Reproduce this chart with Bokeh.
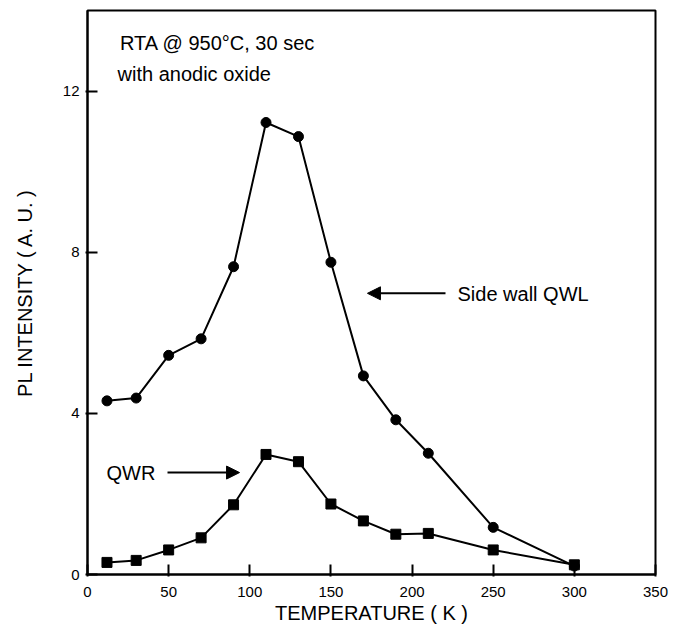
from bokeh.plotting import figure
from bokeh.models import Range1d, FixedTicker, Arrow, NormalHead, Label
from bokeh.embed import file_html
from bokeh.resources import INLINE

# Data
temperature = [12, 30, 50, 70, 90, 110, 130, 150, 170, 190, 210, 250, 300]
sidewall_qwl = [4.31, 4.38, 5.44, 5.85, 7.64, 11.22, 10.87, 7.75, 4.93, 3.84, 3.01, 1.17, 0.21]
qwr = [0.30, 0.35, 0.61, 0.91, 1.73, 2.98, 2.80, 1.75, 1.33, 1.00, 1.02, 0.61, 0.24]
x_ticks = [0, 50, 100, 150, 200, 250, 300, 350]
y_ticks = [0, 4, 8, 12]

FONT = "Liberation Sans"

p = figure(width=683, height=630, output_backend="svg", toolbar_location=None,
           x_range=Range1d(0, 350), y_range=Range1d(0, 14),
           min_border_left=87, min_border_right=28, min_border_top=10, min_border_bottom=56)

p.xgrid.visible = False
p.ygrid.visible = False
p.outline_line_color = "black"
p.outline_line_width = 2
p.background_fill_color = "white"
p.border_fill_color = "white"

for ax in (p.xaxis[0], p.yaxis[0]):
    ax.axis_line_width = 2
    ax.axis_line_color = "black"
    ax.major_tick_line_width = 2
    ax.major_tick_line_color = "black"
    ax.major_tick_in = 10
    ax.major_tick_out = 2
    ax.minor_tick_line_color = None
    ax.major_label_text_font = FONT
    ax.major_label_text_font_size = "15px"
    ax.major_label_text_color = "black"
    ax.axis_label_text_font = FONT
    ax.axis_label_text_font_size = "20px"
    ax.axis_label_text_font_style = "normal"
    ax.axis_label_text_color = "black"

p.xaxis.ticker = FixedTicker(ticks=x_ticks)
p.yaxis.ticker = FixedTicker(ticks=y_ticks)
p.xaxis.axis_label = "TEMPERATURE ( K )"
p.yaxis.axis_label = "PL INTENSITY ( A. U. )"
p.xaxis.major_label_standoff = 10
p.xaxis.axis_label_standoff = 2
p.yaxis.major_label_standoff = 6
p.yaxis.axis_label_standoff = 24

# Series
p.line(temperature, sidewall_qwl, line_color="black", line_width=2)
p.scatter(temperature, sidewall_qwl, marker="circle", size=10, fill_color="black", line_color="black")
p.line(temperature, qwr, line_color="black", line_width=2)
p.scatter(temperature, qwr, marker="square", size=10, fill_color="black", line_color="black")

# Annotations
labels = [
    ("RTA @ 950°C, 30 sec", 20, 13.2),
    ("with anodic oxide", 18.5, 12.43),
    ("QWR", 11.7, 2.52),
    ("Side wall QWL", 228, 6.97),
]
for txt, lx, ly in labels:
    p.add_layout(Label(x=lx, y=ly, text=txt, text_font=FONT, text_font_size="20px",
                       text_color="black", text_baseline="middle", text_align="left"))

arrows = [
    (49.3, 2.53, 93.7, 2.53),
    (220.6, 6.98, 172.5, 6.98),
]
for xs, ys, xe, ye in arrows:
    p.add_layout(Arrow(end=NormalHead(size=13, fill_color="black", line_color="black"),
                       x_start=xs, y_start=ys, x_end=xe, y_end=ye,
                       line_width=2, line_color="black"))

open("out.html", "w").write(file_html(p, INLINE))
